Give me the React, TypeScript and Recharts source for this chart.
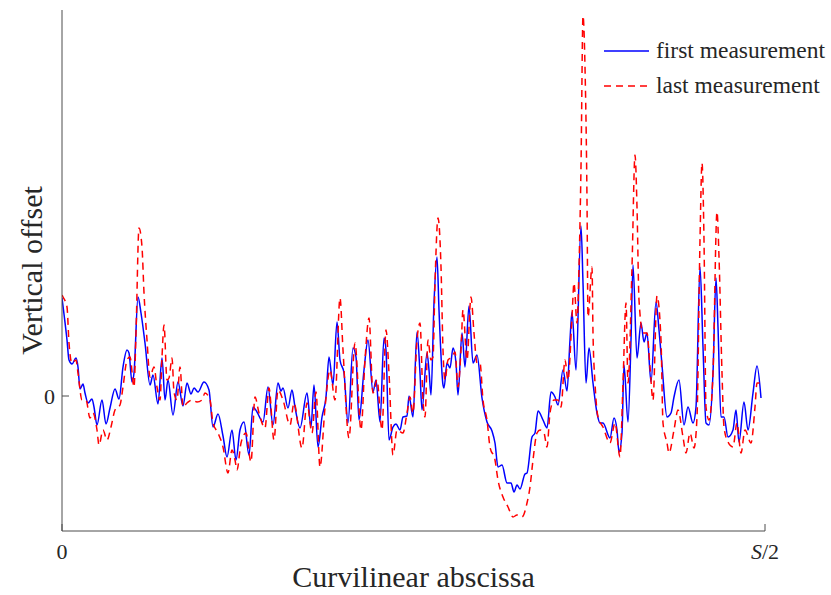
import React from "react"
import { LineChart, Line, XAxis, YAxis, Legend, Label } from "recharts"

// curvilinear abscissa runs from 0 to S/2 (S/2 = 703 units), offsets in arbitrary units
const xTicks = [0, 703]
const xTickLabels = ["0", "S/2"]
const yTicks = [0]

const firstMeasurement: [number, number][] = [
  [0, 0.98], [5, 0.56], [7, 0.36], [10, 0.32], [14, 0.38], [16, 0.29], [18, 0.07], [21, 0.12], [23, 0.03], [26, -0.07],
  [30, -0.03], [32, -0.11], [35, -0.29], [40, -0.04], [44, -0.28], [48, -0.12], [53, 0.07], [57, -0.03], [61, 0.29], [65, 0.46],
  [67, 0.43], [70, 0.14], [72, 0.23], [76, 0.99], [79, 0.83], [83, 0.53], [88, 0.11], [91, 0.21], [96, -0.08], [100, 0.38],
  [103, -0.04], [106, 0.16], [111, -0.19], [116, 0.14], [121, -0.1], [125, 0.13], [129, 0.02], [132, 0.08], [136, 0.04], [142, 0.14],
  [147, 0.06], [151, -0.31], [156, -0.18], [161, -0.4], [165, -0.61], [170, -0.34], [174, -0.64], [178, -0.34], [182, -0.26], [187, -0.59],
  [191, -0.11], [195, -0.16], [201, -0.26], [206, 0.09], [211, -0.29], [216, 0.13], [219, 0.05], [221, 0.08], [226, -0.12], [230, 0.06],
  [233, -0.11], [238, -0.32], [245, 0.03], [249, -0.31], [252, 0.11], [256, -0.51], [260, -0.21], [264, -0.01], [267, 0.39], [271, 0.11],
  [275, 0.74], [278, 0.36], [282, 0.23], [286, -0.27], [291, 0.48], [294, 0.39], [297, -0.24], [302, 0.26], [306, 0.56], [311, 0.04],
  [314, 0.16], [318, -0.26], [322, 0.58], [324, 0.46], [327, -0.44], [331, -0.31], [334, -0.28], [338, -0.34], [341, -0.21], [345, -0.2],
  [347, 0.0], [351, -0.21], [355, 0.64], [358, 0.23], [360, -0.14], [365, 0.43], [367, 0.26], [369, 0.01], [372, 0.93], [375, 1.39],
  [377, 0.86], [381, 0.11], [382, 0.08], [385, 0.33], [388, 0.28], [391, 0.48], [394, 0.33], [396, 0.01], [400, 0.63], [403, 0.29],
  [407, 0.9], [411, 0.33], [415, 0.41], [420, -0.02], [425, -0.26], [430, -0.35], [433, -0.47], [436, -0.71], [440, -0.69], [445, -0.87],
  [449, -0.87], [452, -0.96], [455, -0.89], [458, -0.93], [463, -0.78], [465, -0.77], [470, -0.41], [473, -0.37], [476, -0.15], [481, -0.24],
  [485, -0.32], [489, 0.04], [493, -0.01], [496, -0.09], [501, 0.26], [505, 0.05], [508, 0.56], [510, 0.84], [514, 0.26], [519, 1.7],
  [521, 1.13], [524, 0.13], [527, 0.48], [531, 0.13], [535, -0.17], [538, -0.27], [541, -0.27], [548, -0.42], [552, -0.22], [555, -0.34],
  [557, -0.56], [560, -0.37], [562, 0.31], [566, -0.26], [569, 0.56], [571, 1.31], [575, 0.38], [579, 0.73], [582, 0.54], [585, 0.63],
  [589, 0.14], [594, 0.94], [597, 0.66], [600, 0.31], [605, -0.21], [609, -0.17], [612, -0.01], [617, 0.16], [622, -0.29], [626, -0.11],
  [631, -0.27], [634, -0.11], [638, 1.29], [641, 0.49], [644, -0.27], [647, -0.29], [651, 0.23], [654, 1.18], [656, 0.69], [659, -0.21],
  [662, -0.21], [666, -0.41], [671, -0.34], [674, -0.14], [677, -0.46], [682, -0.06], [686, -0.34], [691, 0.03], [695, 0.3], [699, -0.02],
]

const lastMeasurement: [number, number][] = [
  [0, 1.01], [1, 0.99], [5, 0.89], [7, 0.53], [10, 0.33], [14, 0.36], [16, 0.23], [20, -0.04], [24, -0.04], [28, -0.22],
  [31, -0.17], [35, -0.34], [37, -0.49], [41, -0.34], [45, -0.44], [49, -0.31], [53, -0.14], [58, -0.09], [61, 0.09], [65, 0.36],
  [68, 0.39], [72, 0.09], [74, 0.63], [77, 1.68], [80, 1.49], [82, 1.03], [85, 0.56], [88, 0.19], [92, 0.29], [95, 0.09],
  [98, -0.04], [100, 0.39], [102, 0.71], [105, 0.16], [107, 0.18], [110, 0.38], [112, 0.04], [115, -0.04], [118, 0.29], [121, -0.11],
  [125, -0.07], [130, -0.04], [135, -0.06], [140, -0.04], [143, 0.03], [148, -0.04], [151, -0.27], [156, -0.37], [161, -0.51], [166, -0.77],
  [170, -0.54], [173, -0.64], [175, -0.74], [179, -0.47], [184, -0.37], [189, -0.66], [193, -0.01], [197, -0.17], [203, -0.32], [207, 0.08],
  [212, -0.44], [216, 0.06], [221, -0.04], [228, -0.29], [232, -0.07], [240, -0.52], [245, -0.07], [250, -0.37], [254, 0.04], [258, -0.71],
  [263, -0.12], [268, 0.26], [273, -0.04], [278, 0.98], [281, 0.46], [287, -0.42], [293, 0.53], [299, -0.34], [303, 0.36], [307, 0.78],
  [311, 0.03], [315, 0.16], [320, -0.34], [324, 0.66], [327, 0.23], [331, -0.59], [335, -0.34], [341, -0.37], [345, -0.17], [348, -0.01],
  [351, -0.17], [355, 0.56], [358, 0.73], [361, -0.04], [363, -0.21], [366, 0.56], [369, 0.36], [371, 0.39], [373, 1.13], [376, 1.78],
  [379, 1.29], [381, 0.46], [383, 0.16], [386, 0.36], [390, 0.39], [393, 0.44], [396, 0.09], [399, 0.46], [401, 0.86], [405, 0.36],
  [409, 0.99], [412, 0.63], [415, 0.33], [418, 0.33], [421, -0.04], [425, -0.24], [428, -0.51], [433, -0.64], [436, -0.84], [441, -1.01],
  [446, -1.11], [451, -1.21], [455, -1.19], [460, -1.21], [465, -1.07], [468, -0.91], [471, -0.64], [475, -0.37], [478, -0.34], [482, -0.37],
  [485, -0.51], [488, -0.17], [492, -0.04], [496, -0.04], [499, -0.11], [503, 0.36], [506, 0.16], [510, 0.79], [512, 1.13], [515, 0.73],
  [517, 1.29], [519, 2.29], [521, 3.8], [523, 3.29], [525, 1.96], [526, 0.79], [530, 1.29], [531, 0.63], [533, 0.13], [536, -0.21],
  [541, -0.31], [548, -0.47], [553, -0.27], [558, -0.61], [561, 0.13], [564, 0.93], [566, 0.13], [570, 1.29], [573, 2.41], [575, 1.89],
  [577, 0.96], [581, 0.63], [585, 0.63], [588, 0.29], [591, -0.04], [595, 1.0], [599, 0.56], [601, -0.27], [605, -0.47], [607, -0.57],
  [612, -0.34], [616, -0.14], [621, -0.41], [624, -0.57], [628, -0.37], [632, -0.52], [635, -0.21], [638, 1.56], [640, 2.33], [642, 1.56],
  [644, -0.11], [647, -0.24], [651, 0.23], [655, 1.84], [657, 1.39], [660, 0.23], [662, -0.31], [666, -0.46], [671, -0.51], [675, -0.27],
  [679, -0.57], [683, -0.34], [689, -0.47], [693, -0.11], [695, 0.13], [698, 0.13],
]

const series = [
  { key: "first", name: "first measurement", color: "#0000ff", dash: undefined as string | undefined, points: firstMeasurement },
  { key: "last", name: "last measurement", color: "#ff0000", dash: "7 5", points: lastMeasurement },
]

const FONT = "'Liberation Serif', 'DejaVu Serif', serif"
const TEXT = "#262626"
const AXIS = "#4d4d4d"

function XTick(props: any) {
  const { x, y, payload } = props
  const i = xTicks.indexOf(payload.value)
  const label = xTickLabels[i] ?? String(payload.value)
  return (
    <g>
      <line x1={x} x2={x} y1={y} y2={y - 7} stroke={AXIS} strokeWidth={1} />
      <text x={x} y={y + 28} textAnchor="middle" fontFamily={FONT} fontSize={22} fill={TEXT}>
        {label === "S/2" ? (
          <>
            <tspan fontStyle="italic">S</tspan>
            <tspan>/2</tspan>
          </>
        ) : (
          label
        )}
      </text>
    </g>
  )
}

function YTick(props: any) {
  const { x, y, payload } = props
  return (
    <g>
      <line x1={x} x2={x + 7} y1={y} y2={y} stroke={AXIS} strokeWidth={1} />
      <text x={x - 7} y={y} dy="0.35em" textAnchor="end" fontFamily={FONT} fontSize={22} fill={TEXT}>
        {payload.value}
      </text>
    </g>
  )
}

function LegendBox() {
  return (
    <div style={{ fontFamily: FONT, fontSize: 23.5, color: TEXT, lineHeight: "35px" }}>
      {series.map((s) => (
        <div key={s.key} style={{ display: "flex", alignItems: "center", height: 35, whiteSpace: "nowrap" }}>
          <svg width={52} height={10} style={{ display: "block" }}>
            <line x1={0} x2={45} y1={5} y2={5} stroke={s.color} strokeWidth={1.5} strokeDasharray={s.dash} />
          </svg>
          <span>{s.name}</span>
        </div>
      ))}
    </div>
  )
}

export default function App() {
  return (
    <div style={{ position: "fixed", left: 0, top: 0, width: 831, height: 595, background: "#fff" }}>
      <LineChart width={831} height={595} margin={{ top: 10, right: 66, bottom: 0, left: 0 }}>
        <XAxis
          type="number"
          dataKey="x"
          domain={[0, 703]}
          ticks={xTicks}
          allowDataOverflow
          height={64}
          stroke={AXIS}
          tickLine={false}
          tickSize={0}
          tickMargin={0}
          tick={<XTick />}
        >
          <Label
            content={(p: any) => {
              const vb = p.viewBox
              return (
                <text x={vb.x + vb.width / 2} y={587} textAnchor="middle" fontFamily={FONT} fontSize={30} fill={TEXT}>
                  Curvilinear abscissa
                </text>
              )
            }}
          />
        </XAxis>
        <YAxis
          type="number"
          domain={[-1.35, 3.86]}
          ticks={yTicks}
          allowDataOverflow
          width={62}
          stroke={AXIS}
          tickLine={false}
          tickSize={0}
          tickMargin={0}
          tick={<YTick />}
        >
          <Label
            content={(p: any) => {
              const vb = p.viewBox
              const cy = vb.y + vb.height / 2
              return (
                <text
                  x={42}
                  y={cy}
                  transform={`rotate(-90, 42, ${cy})`}
                  textAnchor="middle"
                  fontFamily={FONT}
                  fontSize={30}
                  fill={TEXT}
                >
                  Vertical offset
                </text>
              )
            }}
          />
        </YAxis>
        <Legend
          layout="horizontal"
          verticalAlign="middle"
          align="center"
          wrapperStyle={{ top: 33, left: 604, width: 230 }}
          content={() => <LegendBox />}
        />
        {series.map((s) => (
          <Line
            key={s.key}
            data={s.points.map(([x, y]) => ({ x, y }))}
            dataKey="y"
            name={s.name}
            type="monotone"
            stroke={s.color}
            strokeWidth={1.5}
            strokeDasharray={s.dash}
            dot={false}
            activeDot={false}
            isAnimationActive={false}
          />
        ))}
      </LineChart>
    </div>
  )
}
